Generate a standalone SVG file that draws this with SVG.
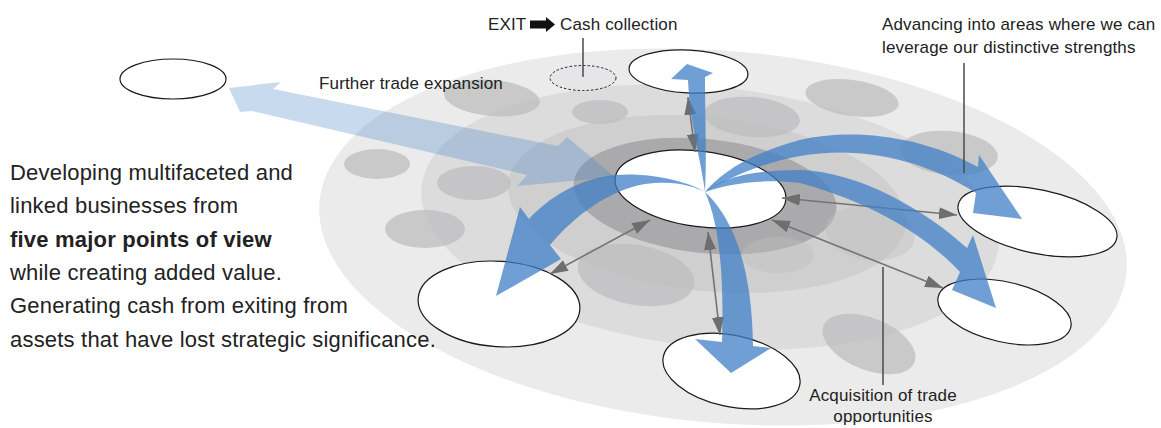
<svg xmlns="http://www.w3.org/2000/svg" width="1161" height="428" viewBox="0 0 1161 428">
<style>
.blob{fill:#bdbdbf;opacity:0.75}
.node{fill:#fff;stroke:#1a1a1a;stroke-width:1.2}
.blue{fill:#3f7fc6;opacity:0.75}
.lite{fill:#4884c6;opacity:0.3}
.gl{stroke:#747474;stroke-width:1.6;fill:none;marker-start:url(#gh);marker-end:url(#gh)}
.lead{stroke:#4a4a4a;stroke-width:1.5;fill:none}
.t{font-family:"Liberation Sans",Arial,sans-serif;fill:#222}
.s{font-size:17px;letter-spacing:0.15px}
.b{font-size:22px;letter-spacing:0.2px}
</style>
<defs>
<marker id="gh" viewBox="0 0 18 12" refX="18" refY="6" markerWidth="18" markerHeight="12" markerUnits="userSpaceOnUse" orient="auto-start-reverse">
<path d="M0,0 L18,6 L0,12 Z" fill="#6e6e6e"/>
</marker>
</defs>
<g id="background">
<ellipse cx="723" cy="237" rx="405" ry="186" transform="rotate(5 723 237)" fill="#ebebeb"/>
<ellipse cx="710" cy="217" rx="290" ry="130" transform="rotate(6 710 217)" fill="#dcdcdd"/>
<ellipse cx="707" cy="204" rx="200" ry="87" transform="rotate(6 707 204)" fill="#cfcfd0"/>
<ellipse cx="705" cy="196" rx="132" ry="57" transform="rotate(6 705 196)" fill="#aaaaac"/>
</g>
<g id="blobs">
<ellipse class="blob" cx="492" cy="98" rx="48" ry="18" transform="rotate(5 492 98)"/>
<ellipse class="blob" cx="600" cy="112" rx="28" ry="12"/>
<ellipse class="blob" cx="377" cy="164" rx="33" ry="15"/>
<ellipse class="blob" cx="474" cy="183" rx="37" ry="17"/>
<ellipse class="blob" cx="425" cy="229" rx="40" ry="19"/>
<ellipse class="blob" cx="636" cy="275" rx="59" ry="30" transform="rotate(10 636 275)"/>
<ellipse class="blob" cx="752" cy="117" rx="48" ry="20" transform="rotate(5 752 117)"/>
<ellipse class="blob" cx="852" cy="98" rx="47" ry="18" transform="rotate(8 852 98)"/>
<ellipse class="blob" cx="949" cy="153" rx="49" ry="22" transform="rotate(5 949 153)"/>
<ellipse class="blob" cx="869" cy="344" rx="49" ry="26" transform="rotate(22 869 344)"/>
<ellipse class="blob" cx="870" cy="233" rx="45" ry="27" transform="rotate(8 870 233)" style="opacity:0.4"/>
<ellipse class="blob" cx="778" cy="255" rx="36" ry="18" style="opacity:0.4"/>
</g>
<g id="expansion-arrow">
<path class="lite" d="M229,88 L281,82 L273,89 L558,146 L567,137 L615,177 L517,186 L527,175 L252,111 L240,112 Z"/>
</g>
<g id="node-exit">
<ellipse cx="583" cy="78" rx="33" ry="12.5" fill="#e6e6e8" stroke="#222" stroke-width="1" stroke-dasharray="2.5 2"/>
</g>
<g id="node-far"><ellipse class="node" cx="173" cy="79" rx="53" ry="20"/></g>
<g id="node-top"><ellipse class="node" cx="688.5" cy="71.5" rx="59.5" ry="21.5" transform="rotate(3 688.5 71.5)"/></g>
<g id="node-center"><ellipse class="node" cx="700.5" cy="189" rx="86" ry="37.7" transform="rotate(7.5 700.5 189)"/></g>
<g id="node-left"><ellipse class="node" cx="499" cy="304" rx="81" ry="42.7" transform="rotate(4 499 304)"/></g>
<g id="node-bottom"><ellipse class="node" cx="731.5" cy="371" rx="69.7" ry="35.7" transform="rotate(12 731.5 371)"/></g>
<g id="node-right-upper"><ellipse class="node" cx="1037.5" cy="221.5" rx="81" ry="31.8" transform="rotate(12 1037.5 221.5)"/></g>
<g id="node-right-lower"><ellipse class="node" cx="1004.5" cy="312" rx="68" ry="30" transform="rotate(12.8 1004.5 312)"/></g>
<g id="connectors">
<line class="gl" x1="695" y1="152" x2="688" y2="97"/>
<line class="gl" x1="708" y1="232" x2="720" y2="335"/>
<line class="gl" x1="650" y1="220" x2="550" y2="274"/>
<line class="gl" x1="782" y1="198" x2="957" y2="215"/>
<line class="gl" x1="772" y1="220" x2="943" y2="288"/>
<path class="blue" d="M705,192 C702,165 690,125 688,80 L671,79 L687,64 L713,73 L705,77 C705,115 707,160 705,192 Z"/>
<path class="blue" d="M705,192 C690,182 650,172 615,175 C580,178 548,198 529,219 L520,207 L496,296 L561,259 L550,245 C575,215 610,190 645,184 C675,180 693,186 705,192 Z"/>
<path class="blue" d="M705,192 C720,175 745,155 800,140 C850,128 920,135 978,167 L979,155 L1022,219 L973,213 L976,193 C925,160 860,145 800,156 C760,163 725,180 705,192 Z"/>
<path class="blue" d="M705,192 C720,180 745,170 800,170 C860,172 925,210 967,248 L973,235 L996,308 L952,290 L960,272 C930,240 880,205 800,183 C760,178 725,185 705,192 Z"/>
<path class="blue" d="M705,192 C730,215 752,260 753,346 L771,348 L731,373 L695,339 L722,342 C724,280 720,225 705,192 Z"/>
<line class="lead" x1="583" y1="38" x2="583" y2="77"/>
<line class="lead" x1="964" y1="63" x2="964" y2="173"/>
<line class="lead" x1="883" y1="267" x2="883" y2="385"/>
</g>
<g id="labels">
<text class="t s" x="488" y="30">EXIT</text>
<polygon points="530,20.5 546,20.5 546,17 555,24.5 546,32 546,28.5 530,28.5" fill="#111"/>
<text class="t s" x="560" y="30">Cash collection</text>
<text class="t s" x="319" y="89">Further trade expansion</text>
<text class="t s" x="882" y="30">Advancing into areas where we can</text>
<text class="t s" x="882" y="53">leverage our distinctive strengths</text>
<text class="t s" x="883" y="401" text-anchor="middle">Acquisition of trade</text>
<text class="t s" x="883" y="422" text-anchor="middle">opportunities</text>
<text class="t b" x="10" y="180">Developing multifaceted and</text>
<text class="t b" x="10" y="213">linked businesses from</text>
<text class="t b" x="10" y="247" font-weight="bold">five major points of view</text>
<text class="t b" x="10" y="280">while creating added value.</text>
<text class="t b" x="10" y="313">Generating cash from exiting from</text>
<text class="t b" x="10" y="347">assets that have lost strategic significance.</text>
</g>
</svg>
